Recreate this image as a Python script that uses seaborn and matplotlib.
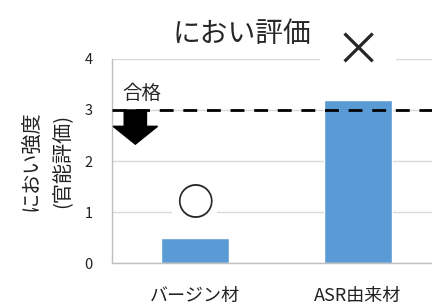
import seaborn as sns
import matplotlib.pyplot as plt
import pandas as pd

# data
categories = ["バージン材", "ASR由来材"]
odor_scores = [0.5, 3.2]
judgements = ["○", "×"]
pass_line = 3.0
y_ticks = [0, 1, 2, 3, 4]

BLUE = "#5B9BD5"

sns.set_theme(style="white")
plt.rcParams["font.family"] = ["Noto Sans CJK JP", "DejaVu Sans"]

df = pd.DataFrame({"材料": categories, "におい強度": odor_scores})

fig = plt.figure(figsize=(4.32, 3.07), dpi=100)
ax = fig.add_axes([0.259, 0.143, 0.75, 0.665])

sns.barplot(data=df, x="材料", y="におい強度", color=BLUE, width=0.42,
            saturation=1, ax=ax, zorder=2)

ax.set_ylim(0, 4)
ax.set_xlim(-0.51, 1.48)
ax.set_yticks(y_ticks)
ax.yaxis.grid(True, color="#D9D9D9", lw=1, zorder=0)
ax.set_axisbelow(True)
for s in ["top", "right"]:
    ax.spines[s].set_visible(False)
for s in ["left", "bottom"]:
    ax.spines[s].set_color("#BFBFBF")
    ax.spines[s].set_linewidth(1)
ax.tick_params(axis="y", length=0, pad=14, labelsize=10.5, labelcolor="#222222")
ax.tick_params(axis="x", length=0, pad=17, labelsize=13, labelcolor="#222222")
ax.set_xlabel("")
ax.set_ylabel("におい強度\n(官能評価)", fontsize=14.5, linespacing=1.7,
              labelpad=8, color="#222222")

# pass threshold
ax.axhline(pass_line, color="black", ls=(0, (5, 3.5)), lw=2, zorder=3)
ax.text(-0.447, pass_line + 0.33, "合格", fontsize=14, va="center", ha="left")
ax.arrow(-0.366, pass_line, 0, -0.67, width=0.137, head_width=0.273,
         head_length=0.35, length_includes_head=True, color="black", zorder=4)

# judgement marks
ax.text(0, 1.16, judgements[0], fontsize=27, ha="center", va="center", zorder=5,
        fontweight="bold",
        bbox=dict(boxstyle="square,pad=0.1", fc="white", ec="none"))
ax.text(1, 4.14, judgements[1], fontsize=34, ha="center", va="center", zorder=5,
        clip_on=False,
        bbox=dict(boxstyle="square,pad=0.3", fc="white", ec="none"))

fig.text(0.56, 0.89, "におい評価", fontsize=20, ha="center", va="center")

fig.savefig("out.png", dpi=100)
